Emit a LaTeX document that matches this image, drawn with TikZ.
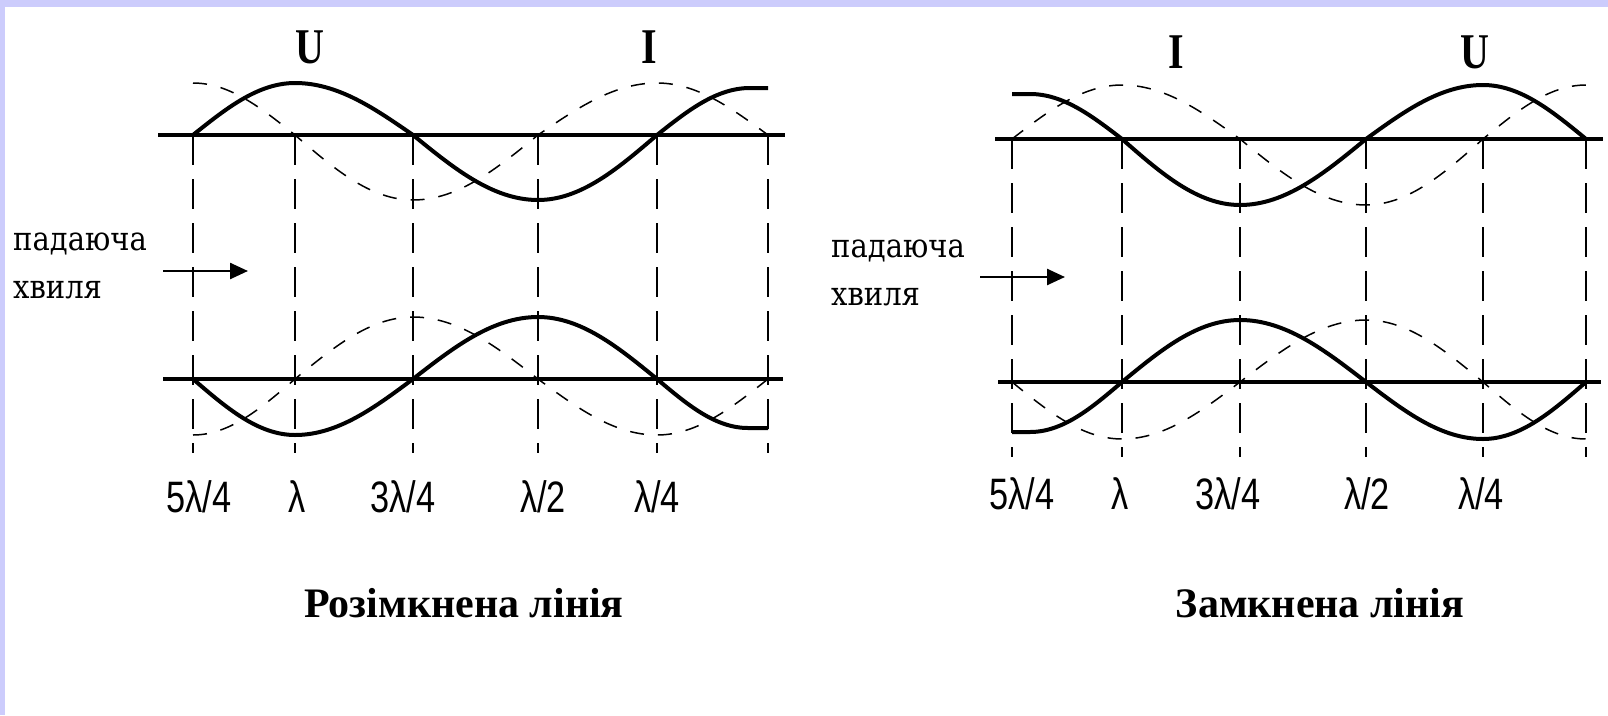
\documentclass[tikz,border=0pt]{standalone}
\usepackage{fontspec}
\setmainfont{Liberation Serif}
\newfontfamily\narrowserif[FakeStretch=0.8]{Liberation Serif}
\newfontfamily\labfont[FakeStretch=0.78]{Liberation Sans}
\newfontfamily\sidefont[FakeStretch=0.88]{DejaVu Serif}
\usetikzlibrary{arrows.meta}
\definecolor{framecol}{RGB}{204,204,252}
\tikzset{
  axisline/.style={line width=4.5pt},
  ucurve/.style={line width=4pt},
  icurve/.style={line width=1.5pt, dash pattern=on 14pt off 14pt},
  vline/.style={line width=2pt, dash pattern=on 30pt off 14pt},
  uilbl/.style={inner sep=0pt, font=\fontsize{50}{50}\selectfont\narrowserif\bfseries},
  poslbl/.style={inner sep=0pt, font=\fontsize{44}{44}\selectfont\labfont},
  titlbl/.style={inner sep=0pt, font=\fontsize{42}{42}\selectfont\bfseries},
  sidelbl/.style={inner sep=0pt, anchor=base west, font=\fontsize{33}{33}\selectfont\sidefont},
  wavearrow/.style={line width=2.5pt, -{Triangle[length=18pt,width=16pt]}}
}
\begin{document}
\begin{tikzpicture}[x=1pt,y=-1pt]
\useasboundingbox (0,0) rectangle (1608,715);
\fill[white] (0,0) rectangle (1608,715);
\fill[framecol] (0,0) rectangle (1608,7);
\fill[framecol] (0,0) rectangle (5,715);

% ---------- left: open line ----------
\foreach \x in {193,295,413,538,657,768} \draw[vline] (\x,135) -- (\x,453);
\draw[axisline] (158,135) -- (785,135);
\draw[axisline] (163,379) -- (783,379);
\draw[ucurve] (193,135) sin (295,83) cos (413,135) sin (538,200) cos (657,135) sin (750,88) -- (768,88);
\draw[icurve] (193,83) cos (295,135) sin (413,200) cos (538,135) sin (657,83) cos (768,135);
\draw[ucurve] (193,379) sin (295,435) cos (413,379) sin (538,317) cos (657,379) sin (748,428) -- (768,428);
\draw[icurve] (193,435) cos (295,379) sin (413,317) cos (538,379) sin (657,435) cos (768,379);

\node[uilbl] (lU) at (310,47) {U};
\node[uilbl] (lI) at (649,47) {I};
\node[poslbl] (l5) at (199,497) {5λ/4};
\node[poslbl] (l4) at (297,497) {λ};
\node[poslbl] (l3) at (403,497) {3λ/4};
\node[poslbl] (l2) at (543,497) {λ/2};
\node[poslbl] (l1) at (657,497) {λ/4};
\node[titlbl] (ltitle) at (464,603) {Розімкнена лінія};
\node[sidelbl] (lside1) at (13,250) {падаюча};
\node[sidelbl] (lside2) at (13,298) {хвиля};
\coordinate (la1) at (163,271);
\coordinate (la2) at (248,271);
\draw[wavearrow] (la1) -- (la2);

% ---------- right: shorted line ----------
\foreach \x in {1012,1122,1240,1366,1483,1586} \draw[vline] (\x,139) -- (\x,457);
\draw[axisline] (995,139) -- (1603,139);
\draw[axisline] (998,382) -- (1601,382);
\draw[ucurve] (1012,94) -- (1030,94) cos (1122,139) sin (1240,205) cos (1366,139) sin (1483,85) cos (1586,139);
\draw[icurve] (1012,139) sin (1122,85) cos (1240,139) sin (1366,205) cos (1483,139) sin (1586,85);
\draw[ucurve] (1012,432) -- (1030,432) cos (1122,382) sin (1240,320) cos (1366,382) sin (1483,439) cos (1586,382);
\draw[icurve] (1012,382) sin (1122,439) cos (1240,382) sin (1366,320) cos (1483,382) sin (1586,439);

\node[uilbl] (rI) at (1176,52) {I};
\node[uilbl] (rU) at (1475,52) {U};
\node[poslbl] (r5) at (1022,494) {5λ/4};
\node[poslbl] (r4) at (1120,494) {λ};
\node[poslbl] (r3) at (1228,494) {3λ/4};
\node[poslbl] (r2) at (1367,494) {λ/2};
\node[poslbl] (r1) at (1481,494) {λ/4};
\node[titlbl] (rtitle) at (1320,603) {Замкнена лінія};
\node[sidelbl] (rside1) at (831,257) {падаюча};
\node[sidelbl] (rside2) at (831,305) {хвиля};
\coordinate (ra1) at (980,277);
\coordinate (ra2) at (1065,277);
\draw[wavearrow] (ra1) -- (ra2);
\end{tikzpicture}
\end{document}
